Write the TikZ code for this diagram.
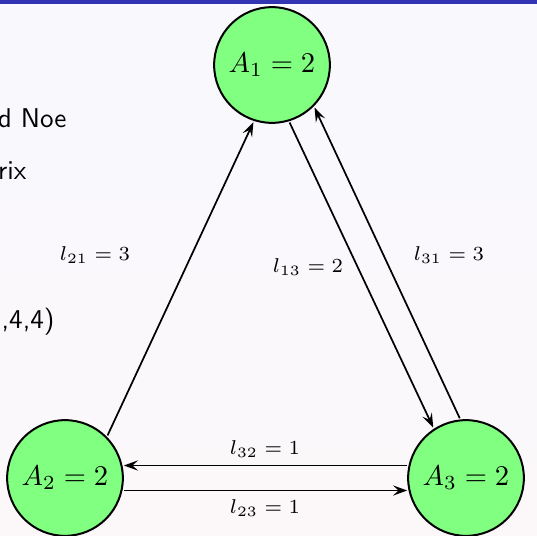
\documentclass[tikz,border=0pt]{standalone}
\usepackage{amsmath, amsfonts, amssymb}
\usepackage{xcolor}
\usepackage{tikz}
\usetikzlibrary{arrows.meta}

\definecolor{framebar}{RGB}{51,51,179}
\definecolor{pagetop}{RGB}{248,248,253}
\definecolor{pagebottom}{RGB}{252,248,250}

\tikzset{
    agent/.style={circle, draw, fill=green!50, line width=0.7pt, minimum size=40.5pt,
        inner sep=0pt, outer sep=0.8pt, font=\fontsize{10}{12}\selectfont},
    flow/.style={-{Stealth[length=5pt, width=3.6pt, inset=2pt]}, line width=0.6pt},
    weight/.style={font=\fontsize{7.3}{9}\selectfont},
    slidetext/.style={anchor=base east, inner sep=0pt, font=\sffamily\fontsize{9.5}{11}\selectfont}
}

\begin{document}
\begin{tikzpicture}[x=0.35pt, y=-0.35pt]
    \useasboundingbox (0,0) rectangle (537,536);
    \clip (0,0) rectangle (537,536);
    \shade[top color=pagetop, bottom color=pagebottom] (0,0) rectangle (537,536);
    \fill[framebar] (0,0) rectangle (537,4);
    % text of the slide, cut by the picture edge
    \node[slidetext] (t1) at (67,128) {d Noe};
    \node[slidetext] (t2) at (27,180) {rix};
    \node[slidetext] (t3) at (55,328) {,4,4)};
    % agents
    \node[agent] (A1) at (272,65) {$A_1 = 2$};
    \node[agent] (A2) at (65,478) {$A_2 = 2$};
    \node[agent] (A3) at (466,478) {$A_3 = 2$};
    \draw[flow] (A2.45) -- (A1.252);
    \draw[flow] (A1.287) -- (A3.123);
    \draw[flow] (A3.96) -- (A1.315);
    \draw[flow] (A3.168) -- (A2.12);
    \draw[flow] (A2.348) -- (A3.192);
    \foreach \ij/\x/\y/\val in {21/95/255/3, 13/308/267/2, 31/449/255/3, 32/265/449/1, 23/265/508/1}
        \node[weight] (w\ij) at (\x,\y) {$l_{\ij} = \val$};
\end{tikzpicture}
\end{document}
